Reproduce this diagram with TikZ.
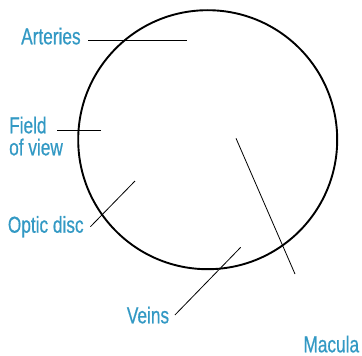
\documentclass[tikz,border=0pt]{standalone}
\usepackage{fontspec}
\setmainfont{Liberation Sans}[FakeStretch=0.75,FakeBold=0.6]
\definecolor{lblblue}{RGB}{51,153,196}
\begin{document}
\begin{tikzpicture}[x=1pt,y=-1pt,every node/.style={font=\fontsize{23}{22}\selectfont,text=lblblue,inner sep=0pt}]
\useasboundingbox (0,0) rectangle (362,356);
\draw[line width=1.9pt] (207.7,139.7) circle[radius=129.5];
\node[anchor=base west] (art) at (21,44.3) {Arteries};
\node[anchor=base west,align=left] (fov) at (9,155.3) {Field\\of view};
\node[anchor=base west] (disc) at (7.7,232.7) {Optic disc};
\node[anchor=base west] (vein) at (126.7,323.3) {Veins};
\node[anchor=base west] (mac) at (303.3,352.3) {Macula};
\coordinate (artTip) at (187.3,40.7); \coordinate (fovTip) at (101,130.7);
\coordinate (discTip) at (135,181); \coordinate (veinTip) at (240.7,247.3);
\coordinate (macTip) at (236,138.3);
\draw[line width=0.8pt] ([shift={(7.3,-3.6)}]art.base east)--(artTip);
\draw[line width=0.8pt] (fovTip)--([shift={(47.7,-24.6)}]fov.base west);
\draw[line width=0.8pt] ([shift={(6.6,-6)}]disc.base east)--(discTip);
\draw[line width=0.8pt] ([shift={(5.6,-8.3)}]vein.base east)--(veinTip);
\draw[line width=0.8pt] ([shift={(-8.3,-78.3)}]mac.base west)--(macTip);
\end{tikzpicture}
\end{document}
